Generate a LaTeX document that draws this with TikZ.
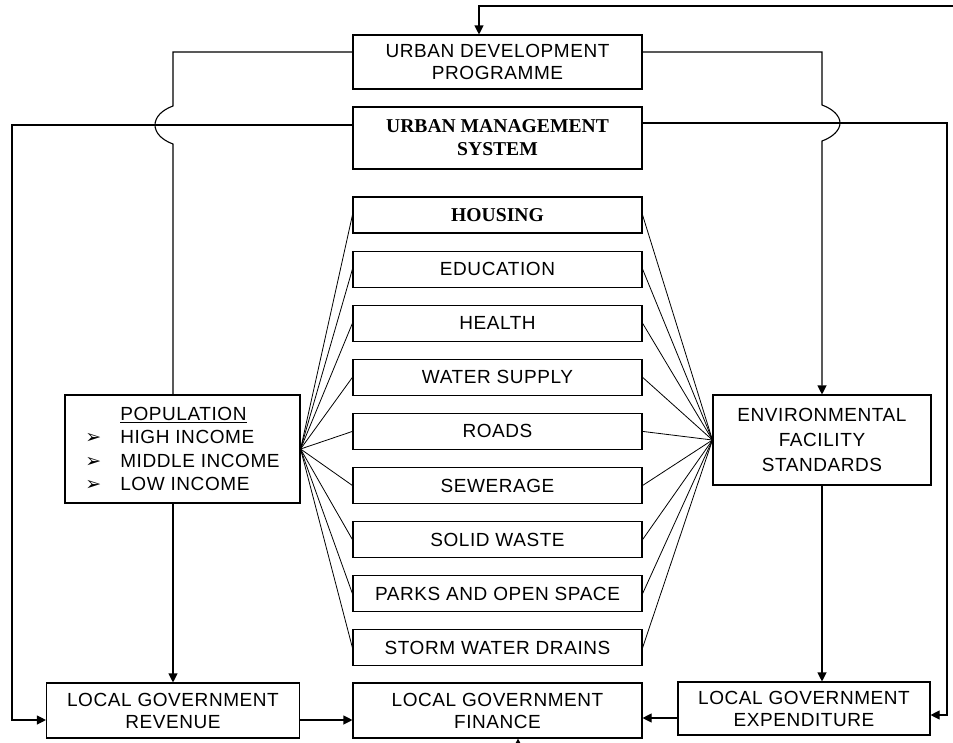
\documentclass[tikz,border=0pt]{standalone}
\usepackage{fontspec}
\setmainfont{Liberation Sans}[LetterSpace=3]
\newfontfamily\headfont{Liberation Serif}
\newfontfamily\symfont{DejaVu Sans}
\usetikzlibrary{arrows.meta}

\newcommand{\popitem}{\makebox[35pt][l]{\symfont\fontsize{19}{23}\selectfont ➢}}

\tikzset{
   box/.style={draw, line width=1.1pt, align=center, inner sep=0pt,
      font=\fontsize{19}{22}\selectfont},
   midbox/.style={box, minimum width=289pt, minimum height=36pt},
   head/.style={font=\fontsize{19.6}{23}\headfont\bfseries},
   link/.style={line width=1.1pt},
   fan/.style={line width=0.8pt},
   tip/.style={-{Triangle[length=9pt,width=9pt]}},
}

\begin{document}
\begin{tikzpicture}[x=1pt, y=-1pt]
   \useasboundingbox (0,0) rectangle (953,742);

   % top boxes
   \node[box, minimum width=289pt, minimum height=54pt] (udp) at (497.5,62) {URBAN DEVELOPMENT\\PROGRAMME};
   \node[box, head, minimum width=289pt, minimum height=62pt] (ums) at (497.5,138) {URBAN MANAGEMENT\\SYSTEM};

   % facilities
   \node[midbox, head] (b1) at (497.5,215) {HOUSING};
   \foreach \name [count=\i from 2] in {EDUCATION, HEALTH, WATER SUPPLY, ROADS, SEWERAGE,
         SOLID WASTE, PARKS AND OPEN SPACE, STORM WATER DRAINS} {
      \node[midbox] (b\i) at (497.5,{215+54.1*(\i-1)}) {\name};
   }

   % side boxes
   \node[box, align=left, minimum width=235pt, minimum height=108pt, font=\fontsize{19}{23.5}\selectfont] (pop) at (182.5,449)
      {\hspace*{35pt}\underline{POPULATION}\\
       \popitem HIGH INCOME\\
       \popitem MIDDLE INCOME\\
       \popitem LOW INCOME};
   \node[box, minimum width=218pt, minimum height=90pt, font=\fontsize{19}{25}\selectfont] (env) at (822,440)
      {ENVIRONMENTAL\\FACILITY\\STANDARDS};

   % bottom boxes
   \node[box, minimum width=253pt, minimum height=55pt] (lgr) at (173,710.5) {LOCAL GOVERNMENT\\REVENUE};
   \node[box, minimum width=289pt, minimum height=55pt] (lgf) at (497.5,710.5) {LOCAL GOVERNMENT\\FINANCE};
   \node[box, minimum width=252pt, minimum height=53pt] (lge) at (804,708.5) {LOCAL GOVERNMENT\\EXPENDITURE};

   % fan of links
   \foreach \i in {1,...,9} {
      \draw[fan] (pop.east) -- (b\i.west);
      \draw[fan] (env.west) -- (b\i.east);
   }

   % feedback loops
   \coordinate (feed) at (953,6);
   \coordinate (base) at (518,760);
   \draw[link, tip] (feed) -| ([xshift=-18.5pt]udp.north);
   \draw[link] ([yshift=10pt]udp.west) -- (173,52) -- (173,106)
      .. controls (162,110) and (155,117) .. (155,125)
      .. controls (155,133) and (162,140) .. (173,144) -- (lgr.north |- pop.north);
   \draw[link, tip] ([yshift=10pt]udp.east) -- (822,52) -- (822,105)
      .. controls (833,109) and (840,116) .. (840,123)
      .. controls (840,130) and (833,137) .. (822,141) -- (env.north);
   \draw[link, tip] ([yshift=13pt]ums.west) -- (12,125) |- ([yshift=-9.5pt]lgr.west);
   \draw[link, tip] ([yshift=15pt]ums.east) -- (947,123) |- ([yshift=-6.5pt]lge.east);
   \draw[link, tip] (pop.south -| lgr.north) -- (lgr.north);
   \draw[link, tip] (env.south) -- (env.south |- lge.north);
   \draw[link, tip] ([yshift=-9.5pt]lgr.east) -- ([yshift=-9.5pt]lgr.east -| lgf.west);
   \draw[link, tip] ([yshift=-9.5pt]lge.west) -- ([yshift=-9.5pt]lge.west -| lgf.east);
   \draw[link, tip] (base) -- (base |- lgf.south);
\end{tikzpicture}
\end{document}
